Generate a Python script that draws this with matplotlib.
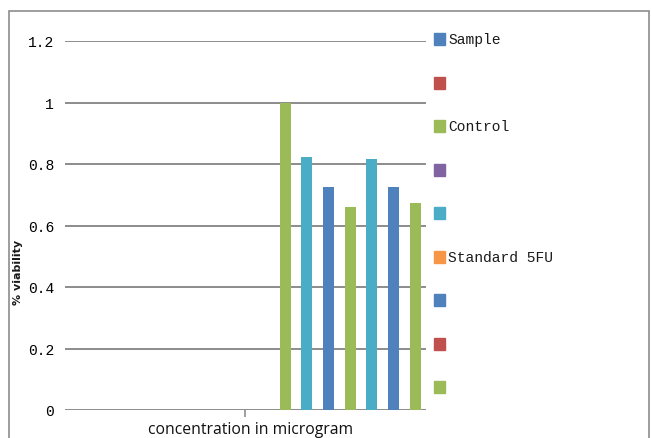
import matplotlib
matplotlib.use("Agg")
import matplotlib.pyplot as plt
from matplotlib.patches import Rectangle

# values
viability = [1.0, 0.822, 0.726, 0.659, 0.816, 0.726, 0.673]
bar_colors = ["#9bbb59", "#4bacc6", "#4f81bd", "#9bbb59", "#4bacc6", "#4f81bd", "#9bbb59"]

legend_labels = ["Sample", "", "Control", "", "", "Standard 5FU", "", "", ""]
legend_colors = ["#4f81bd", "#c0504d", "#9bbb59", "#8064a2", "#4bacc6",
                 "#f79646", "#4f81bd", "#c0504d", "#9bbb59"]

yticks = [0, 0.2, 0.4, 0.6, 0.8, 1.0, 1.2]
ytick_labels = ["0", "0.2", "0.4", "0.6", "0.8", "1", "1.2"]

W, H = 651, 439
fig = plt.figure(figsize=(W / 100, H / 100), dpi=100)

# outer chart border
fig.patches.append(Rectangle((9 / W, -0.05), 640 / W, 1.05 - 12 / H,
                             transform=fig.transFigure, fill=False,
                             edgecolor="#8c8c8c", linewidth=1.2))

ax = fig.add_axes([65 / W, 1 - 411 / H, 361 / W, (411 - 42) / H])
ax.set_xlim(0, 2)
ax.set_ylim(0, 1.2)

for y in yticks:
    ax.axhline(y, color="#8c8c8c", linewidth=1.4, zorder=1)

step = 0.12
start = 1.22
for i, (v, c) in enumerate(zip(viability, bar_colors)):
    ax.bar(start + i * step, v, width=0.062, color=c, zorder=3)

for s in ax.spines.values():
    s.set_visible(False)

ax.set_yticks(yticks)
ax.set_yticklabels(ytick_labels, family="Liberation Mono", fontsize=10.5)
ax.tick_params(axis="y", length=0, pad=8)
ax.set_xticks([1])
ax.set_xticklabels([])
ax.tick_params(axis="x", length=5, color="#8c8c8c", width=1.2)

fig.text(251 / W, 1 - 430 / H, "concentration in microgram", ha="center",
         va="center", fontsize=11.3, family="Open Sans", color="#111111")
fig.text(18 / W, 1 - 272 / H, "% viability", rotation=90, ha="center",
         va="center", fontsize=8, fontweight="bold", color="#1a1a1a")

# legend drawn as figure text + squares
for k, (lab, col) in enumerate(zip(legend_labels, legend_colors)):
    yc = 40 + k * 43.5
    fig.patches.append(Rectangle((434 / W, 1 - (yc + 6) / H), 11 / W, 12 / H,
                                 transform=fig.transFigure, color=col))
    if lab:
        fig.text(448 / W, 1 - yc / H, lab, ha="left", va="center",
                 family="Liberation Mono", fontsize=10.5, color="#1a1a1a")

fig.savefig("out.png", dpi=100)
